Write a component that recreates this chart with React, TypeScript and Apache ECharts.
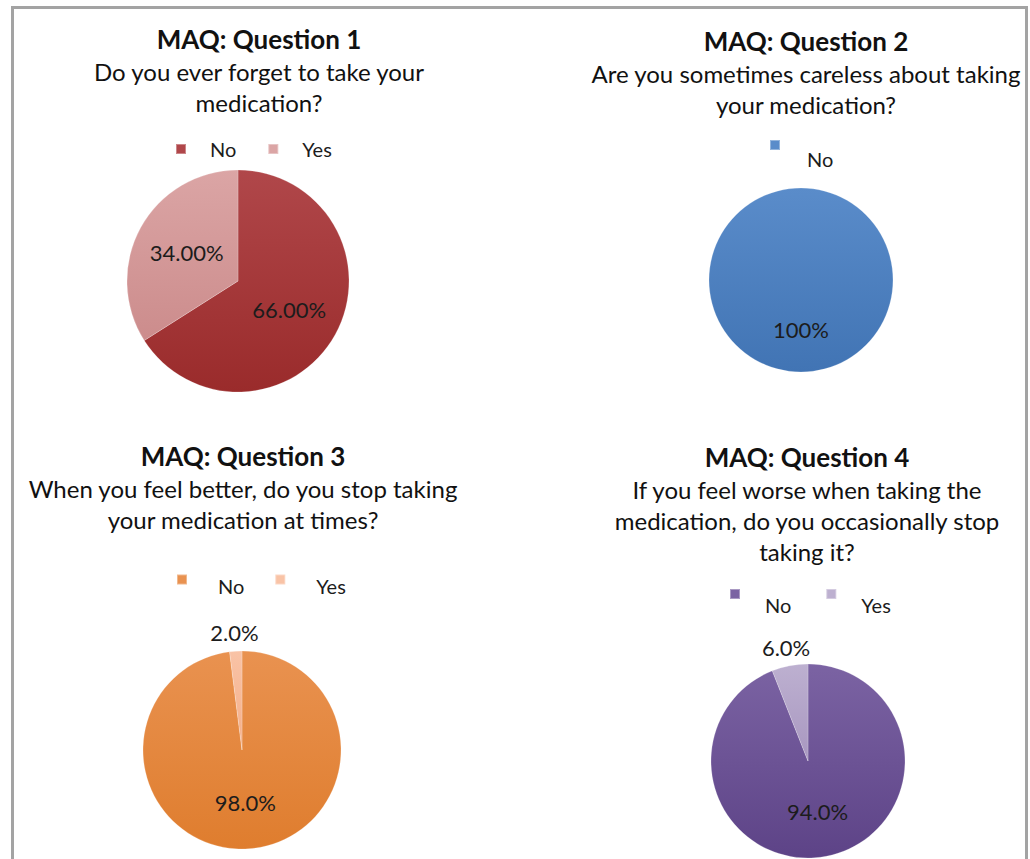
import React, { useEffect, useRef } from 'react';
import * as echarts from 'echarts';

// ---------- data ----------
const categories = ['No', 'Yes'];
const q1Values = [66, 34];
const q2Values = [100];
const q3Values = [98, 2];
const q4Values = [94, 6];
const headings = ['MAQ: Question 1', 'MAQ: Question 2', 'MAQ: Question 3', 'MAQ: Question 4'];
const q1Lines = ['Do you ever forget to take your', 'medication?'];
const q2Lines = ['Are you sometimes careless about taking', 'your medication?'];
const q3Lines = ['When you feel better, do you stop taking', 'your medication at times?'];
const q4Lines = ['If you feel worse when taking the', 'medication, do you occasionally stop', 'taking it?'];
const labelDecimals = [2, 0, 1, 1];

// colours [top, bottom] per slice
const q1Colors = [['#b0474a', '#9a2b2b'], ['#dba5a5', '#cc8c8c']];
const q2Colors = [['#5a8cca', '#4174b4']];
const q3Colors = [['#e99250', '#df7d2e'], ['#f9c3a6', '#f4ae88']];
const q4Colors = [['#7b63a3', '#5d4387'], ['#bdb0d0', '#a897c0']];

const FONT = 'Lato, "Open Sans", sans-serif';

export default function App() {
  const ref = useRef<HTMLDivElement>(null);
  useEffect(() => {
    document.body.style.margin = '0';
    const chart = echarts.init(ref.current!, null, { renderer: 'svg' });

    const panels = [
      { values: q1Values, colors: q1Colors, lines: q1Lines, cx: 238, cy: 281, r: 111, tx: 259, ty: 40,
        legend: { left: 175, top: 139, gap: 31, drop: 0, padLeft: 19 } },
      { values: q2Values, colors: q2Colors, lines: q2Lines, cx: 801, cy: 280, r: 92, tx: 806, ty: 42,
        legend: { left: 769, top: 117, gap: 30, drop: 28, padLeft: 22 } },
      { values: q3Values, colors: q3Colors, lines: q3Lines, cx: 242, cy: 750, r: 99, tx: 243, ty: 457,
        legend: { left: 176, top: 563, gap: 30, drop: 13, padLeft: 26 } },
      { values: q4Values, colors: q4Colors, lines: q4Lines, cx: 808, cy: 761, r: 97, tx: 807, ty: 458,
        legend: { left: 729, top: 572, gap: 34, drop: 22, padLeft: 20 } },
    ];

    const grad = (c: string[]) =>
      new echarts.graphic.LinearGradient(0, 0, 0, 1, [
        { offset: 0, color: c[0] },
        { offset: 1, color: c[1] },
      ]);

    const series = panels.map((p, pi) => ({
      type: 'pie',
      center: [p.cx, p.cy],
      radius: p.r,
      startAngle: 90,
      clockwise: true,
      avoidLabelOverlap: false,
      silent: true,
      itemStyle: { borderColor: 'rgba(255,255,255,0.35)', borderWidth: 0.6 },
      label: {
        show: true,
        position: 'inside',
        fontFamily: FONT,
        fontSize: 22,
        color: '#1c1c1c',
        formatter: (d: any) => d.value.toFixed(labelDecimals[pi]) + '%',
      },
      labelLine: { show: false },
      data: p.values.map((v, i) => {
        const small = v < 10;
        return {
          name: categories[i],
          value: v,
          itemStyle: { color: grad(p.colors[i]) },
          label: small ? { position: 'outside', distanceToLabelLine: -24 } : undefined,
          labelLine: small ? { show: false, length: 19, length2: 0 } : undefined,
        };
      }),
    }));

    const legends = panels.map((p) => ({
      left: p.legend.left,
      top: p.legend.top,
      orient: 'horizontal',
      padding: 0,
      itemWidth: 10,
      itemHeight: 10,
      itemGap: p.legend.gap,
      icon: 'rect',
      selectedMode: false,
      formatter: (name: string) => (p.legend.drop ? '\n' + name : name),
      textStyle: {
        fontFamily: FONT,
        fontSize: 20,
        color: '#1c1c1c',
        lineHeight: p.legend.drop || 20,
        padding: [0, 0, 0, p.legend.padLeft],
      },
      data: p.values.map((_, i) => ({
        name: categories[i],
        itemStyle: { color: p.colors[i][0] },
      })),
    }));

    const graphics: any[] = [
      {
        type: 'rect',
        shape: { x: 12.5, y: 7.5, width: 1014, height: 900 },
        style: { fill: 'none', stroke: '#a3a3a3', lineWidth: 3 },
        silent: true,
      },
    ];
    panels.forEach((p, pi) => {
      graphics.push({
        type: 'text',
        x: p.tx,
        y: p.ty - 1,
        style: {
          text: headings[pi],
          font: `bold 26px ${FONT}`,
          fill: '#111',
          align: 'center',
          verticalAlign: 'middle',
        },
      });
      p.lines.forEach((line, li) => {
        graphics.push({
          type: 'text',
          x: p.tx,
          y: p.ty + 31 + li * 31,
          style: {
            text: line,
            font: `24px ${FONT}`,
            fill: '#111',
            align: 'center',
            verticalAlign: 'middle',
          },
        });
      });
    });

    chart.setOption({
      animation: false,
      backgroundColor: '#ffffff',
      legend: legends,
      series,
      graphic: graphics,
    });
    return () => chart.dispose();
  }, []);
  return <div ref={ref} style={{ position: 'absolute', left: 0, top: 0, width: 1030, height: 859 }} />;
}
